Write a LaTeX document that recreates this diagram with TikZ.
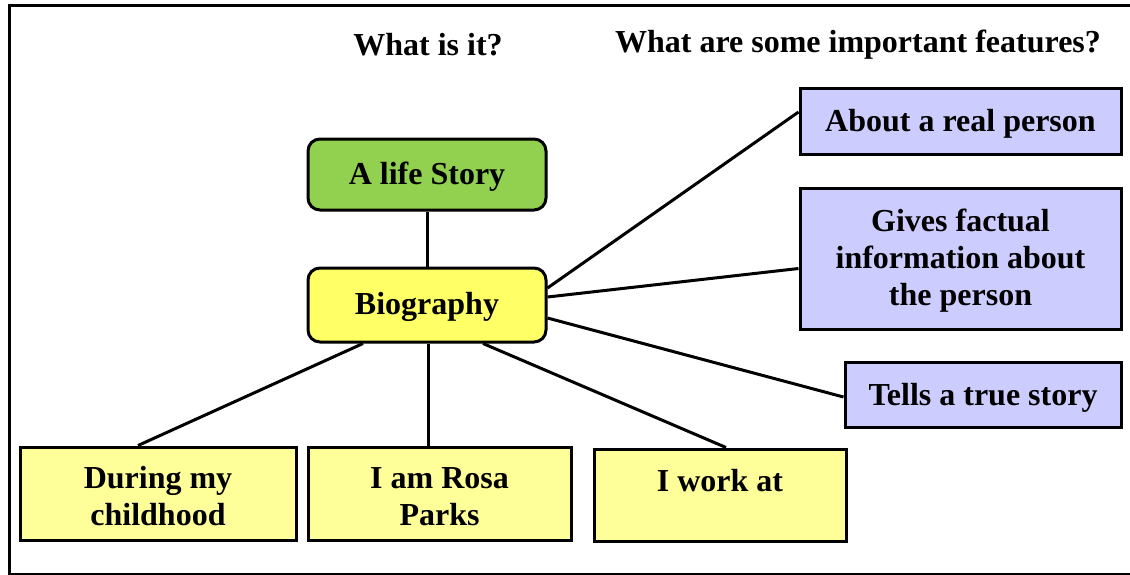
\documentclass[tikz,border=0pt]{standalone}
\usepackage{fontspec}
\setmainfont{Liberation Serif}
\definecolor{lifegreen}{HTML}{92D050}
\definecolor{bioyellow}{HTML}{FFFF66}
\definecolor{lowyellow}{HTML}{FFFF99}
\definecolor{featblue}{HTML}{CCCCFF}
\begin{document}
\begin{tikzpicture}[x=1pt,y=-1pt,
  font=\fontsize{32}{37}\selectfont\bfseries,
  box/.style={draw=black, line width=3pt, inner sep=0pt},
  roundbox/.style={box, rounded corners=12pt},
  boxtext/.style={inner sep=0pt, align=center, text=black},
  conn/.style={draw=black, line width=3pt},
  header/.style={inner sep=0pt, text=black}]
\useasboundingbox (0,0) rectangle (1130,574);
\draw[line width=3pt] (9,5.5) rectangle (1140,574);

\node[header] (h1) at (428,45) {What is it?};
\node[header] (h2) at (858,45) {What are some important features?};

\node[roundbox, fill=lifegreen, minimum width=238pt, minimum height=71pt] (life) at (427,174.5) {};
\node[boxtext] (lifet) at ([yshift=-2pt]life.center) {A life Story};
\node[roundbox, fill=bioyellow, minimum width=238pt, minimum height=74pt] (bio) at (427,305) {};
\node[boxtext] (biot) at ([yshift=-2pt]bio.center) {Biography};

\node[box, fill=featblue, minimum width=321pt, minimum height=66pt] (about) at (960.5,121) {};
\node[boxtext] (aboutt) at ([yshift=-3pt]about.center) {About a real person};
\node[box, fill=featblue, minimum width=321pt, minimum height=141pt] (gives) at (960.5,258.5) {};
\node[boxtext] (givest) at ([yshift=-2pt]gives.center) {Gives factual\\information about\\the person};
\node[box, fill=featblue, minimum width=276pt, minimum height=65pt] (tells) at (983,394.5) {};
\node[boxtext] (tellst) at ([yshift=-3pt]tells.center) {Tells a true story};

\node[box, fill=lowyellow, minimum width=276pt, minimum height=93pt] (during) at (158,493.5) {};
\node[boxtext] (duringt) at ([yshift=-3pt]during.center) {During my\\childhood};
\node[box, fill=lowyellow, minimum width=263pt, minimum height=93pt] (rosa) at (439.5,493.5) {};
\node[boxtext] (rosat) at ([yshift=-3pt]rosa.center) {I am Rosa\\Parks};
\node[box, fill=lowyellow, minimum width=252pt, minimum height=92pt] (work) at (720,495) {};
\node[boxtext] (workt) at ([yshift=-4pt]work.center) {I work at\\\mbox{}};

\draw[conn] (life.south) -- (bio.north);
\draw[conn] ([yshift=17pt]bio.east) -- ([yshift=9pt]about.west);
\draw[conn] ([yshift=8pt]bio.east) -- ([yshift=-10pt]gives.west);
\draw[conn] ([yshift=-13pt]bio.east) -- ([yshift=-2.5pt]tells.west);
\draw[conn] ([xshift=-64pt]bio.south) -- ([xshift=-20pt]during.north);
\draw[conn] ([xshift=1pt]bio.south) -- ([xshift=-11.5pt]rosa.north);
\draw[conn] ([xshift=56pt]bio.south) -- ([xshift=6pt]work.north);
\end{tikzpicture}
\end{document}
